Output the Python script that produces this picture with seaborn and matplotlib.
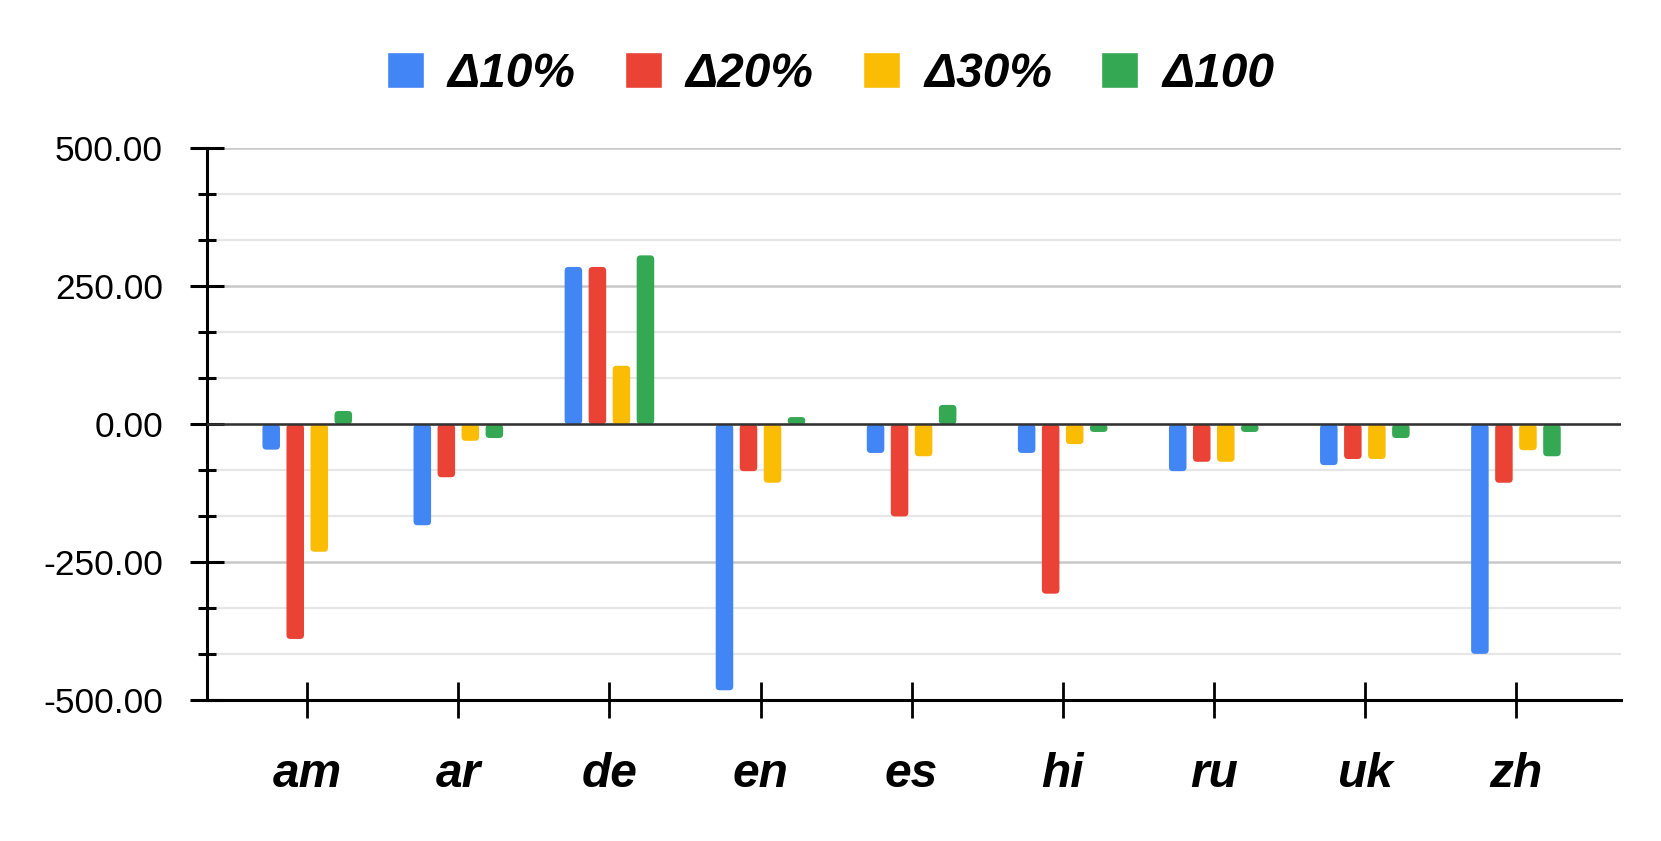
import pandas as pd
import seaborn as sns
import matplotlib.pyplot as plt
from matplotlib.patches import FancyBboxPatch
from matplotlib.ticker import MultipleLocator, FormatStrFormatter

# datos
langs = ['am', 'ar', 'de', 'en', 'es', 'hi', 'ru', 'uk', 'zh']
series = ['Δ10%', 'Δ20%', 'Δ30%', 'Δ100']
d10 = [-46, -183, 285, -482, -52, -52, -85, -74, -416]
d20 = [-389, -96, 285, -85, -167, -307, -68, -63, -106]
d30 = [-231, -30, 106, -106, -58, -36, -68, -63, -47]
d100 = [24, -25, 306, 13, 35, -14, -14, -25, -58]
colors = ["#4285F4", "#EA4335", "#FBBC04", "#34A853"]

rows = []
for name, vals in zip(series, [d10, d20, d30, d100]):
    for lang, v in zip(langs, vals):
        rows.append({'lang': lang, 'serie': name, 'valor': v})
df = pd.DataFrame(rows)

sns.set_style("white")
plt.rcParams['font.family'] = ['Liberation Sans', 'DejaVu Sans']
plt.rcParams['text.color'] = 'black'

fig = plt.figure(figsize=(16.61, 8.41), dpi=100)
ax = fig.add_axes([0.1244, 0.1674, 0.9757 - 0.1244, 0.8237 - 0.1674])

sns.barplot(data=df, x='lang', y='valor', hue='serie', order=langs,
            hue_order=series, palette=colors, width=0.636, gap=0.27,
            saturation=1, ax=ax, zorder=2)

handles, labels = ax.get_legend_handles_labels()
ax.legend_.remove()

ax.set_ylim(-500, 500)
ax.set_xlim(-0.666, 8.693)

# esquinas redondeadas: se cambia cada barra por una FancyBboxPatch
aspect = (1000 / 552) / (1 / 151)
for p in list(ax.patches):
    x, y = p.get_x(), p.get_y()
    w, h = p.get_width(), p.get_height()
    if h == 0:
        continue
    y0, hh = (y, h) if h > 0 else (y + h, -h)
    r = min(0.026, hh / aspect / 2)
    fb = FancyBboxPatch((x, y0), w, hh, boxstyle=f"round,pad=0,rounding_size={r}",
                        mutation_aspect=aspect, facecolor=p.get_facecolor(),
                        edgecolor='none', zorder=2)
    ax.add_patch(fb)
    p.set_visible(False)

leg = fig.legend(handles, labels, loc='center', bbox_to_anchor=(0.5, 0.912),
                 ncol=4, frameon=False, handlelength=0.77, handleheight=0.77,
                 handletextpad=0.5, columnspacing=1.03,
                 prop=dict(family='Liberation Sans', weight='bold', style='italic', size=34.5))
for t in leg.get_texts():
    t.set_color('black')

ax.yaxis.set_major_locator(MultipleLocator(250))
ax.yaxis.set_minor_locator(MultipleLocator(500 / 6))
ax.yaxis.set_major_formatter(FormatStrFormatter('%.2f'))

ax.grid(which='major', axis='y', color='#c8c8c8', lw=1.8, zorder=0)
ax.grid(which='minor', axis='y', color='#e6e6e6', lw=1.6, zorder=0)
ax.grid(axis='x', visible=False)
ax.set_axisbelow(True)
ax.axhline(0, color='#333333', lw=1.8, zorder=3)

sns.despine(ax=ax, top=True, right=True)
for s in ['left', 'bottom']:
    ax.spines[s].set_color('black')
    ax.spines[s].set_linewidth(2.2)

ax.tick_params(axis='y', which='major', direction='inout', length=25, width=2.2,
               color='black', pad=19, labelsize=25.5, labelcolor='black', left=True)
ax.tick_params(axis='y', which='minor', direction='inout', length=13, width=2.2,
               color='black', left=True)
ax.tick_params(axis='x', direction='inout', length=26, width=2, color='black',
               pad=24, labelcolor='black', bottom=True)
for t in ax.get_xticklabels():
    t.set_fontsize(34.5)
    t.set_fontweight('bold')
    t.set_fontstyle('italic')

ax.set_xlabel('')
ax.set_ylabel('')

plt.savefig("out.png", dpi=100)
